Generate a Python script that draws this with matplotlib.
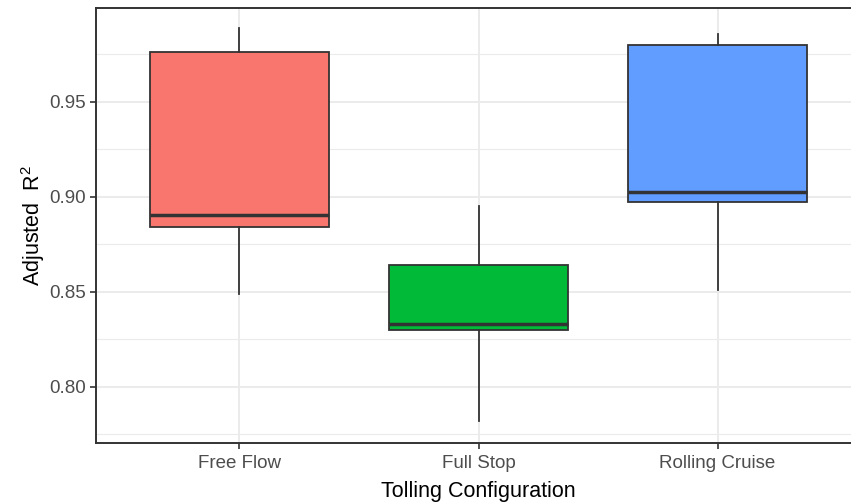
import matplotlib
matplotlib.use("Agg")
import matplotlib.pyplot as plt
from matplotlib.ticker import FixedLocator

plt.rcParams['font.family'] = ['Liberation Sans', 'DejaVu Sans']
plt.rcParams['mathtext.fontset'] = 'custom'
plt.rcParams['mathtext.rm'] = 'Liberation Sans'
plt.rcParams['mathtext.it'] = 'Liberation Sans'

categories = ["Free Flow", "Full Stop", "Rolling Cruise"]
whisker_low = [0.849, 0.782, 0.851]
q1 = [0.884, 0.830, 0.897]
median = [0.8905, 0.833, 0.9025]
q3 = [0.976, 0.864, 0.980]
whisker_high = [0.989, 0.895, 0.9856]
colors = ["#F8766D", "#00BA38", "#619CFF"]

W, H = 851, 503
fig = plt.figure(figsize=(W / 100, H / 100), dpi=100)
left, right, top, bottom = 96, 861, 8, 442.7
ax = fig.add_axes([left / W, 1 - bottom / H, (right - left) / W, (bottom - top) / H])

stats = []
for i, c in enumerate(categories):
    stats.append(dict(label=c, whislo=whisker_low[i], q1=q1[i], med=median[i],
                      q3=q3[i], whishi=whisker_high[i], fliers=[]))

positions = list(range(1, len(categories) + 1))
bp = ax.bxp(stats, positions=positions, widths=0.75, patch_artist=True,
            showcaps=False, showfliers=False,
            boxprops=dict(edgecolor="#333333", linewidth=1.3),
            whiskerprops=dict(color="#333333", linewidth=1.3),
            medianprops=dict(color="#333333", linewidth=2.5, solid_capstyle='butt'),
            zorder=3)
for patch, col in zip(bp['boxes'], colors):
    patch.set_facecolor(col)

ax.set_xlim(0.4, 3.6)
ax.set_ylim(0.7705, 0.9993)
ax.yaxis.set_major_locator(FixedLocator([0.80, 0.85, 0.90, 0.95]))
ax.yaxis.set_minor_locator(FixedLocator([0.775, 0.825, 0.875, 0.925, 0.975]))
ax.set_yticklabels(["0.80", "0.85", "0.90", "0.95"])
ax.set_xticks(positions)
ax.set_xticklabels(categories)

ax.grid(True, which='major', color="#EBEBEB", linewidth=1.4, zorder=0)
ax.grid(True, which='minor', axis='y', color="#EBEBEB", linewidth=0.8, zorder=0)
ax.set_axisbelow(True)

for s in ax.spines.values():
    s.set_color("#333333")
    s.set_linewidth(1.4)

ax.tick_params(axis='both', which='major', length=4, width=1.2, color="#333333",
               labelcolor="#4D4D4D", labelsize=13.5, pad=3)
ax.tick_params(axis='x', which='major', pad=5)
ax.tick_params(axis='both', which='minor', length=0)

ax.set_xlabel("Tolling Configuration", fontsize=15.5, color="black", labelpad=6)
ax.set_ylabel(r"Adjusted  R$^2$", fontsize=15.5, color="black", labelpad=2)

fig.savefig("out.png", dpi=100)
